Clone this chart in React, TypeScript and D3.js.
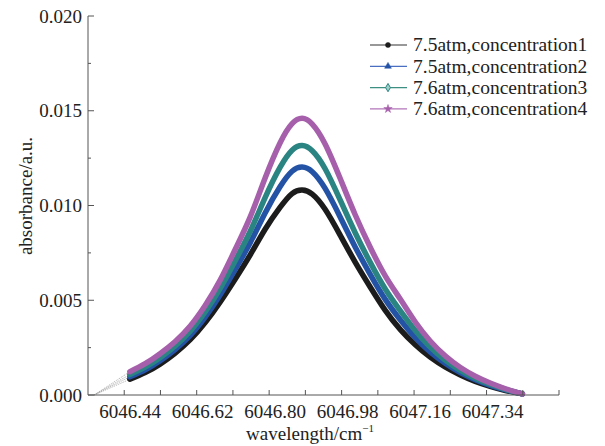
import * as d3 from "d3";
import React from "react";

// wavelength samples (cm^-1)
const wavelengths = [
  6046.454, 6046.492, 6046.529, 6046.566, 6046.604, 6046.641, 6046.678,
  6046.715, 6046.753, 6046.79, 6046.827, 6046.857, 6046.882, 6046.907,
  6046.939, 6046.976, 6047.014, 6047.051, 6047.088, 6047.126, 6047.163,
  6047.2, 6047.238, 6047.275, 6047.312, 6047.349, 6047.387, 6047.429,
];

const conc1 = [
  0.00083, 0.00118, 0.00163, 0.0022, 0.00292, 0.00382, 0.0049, 0.0061, 0.0074,
  0.00875, 0.0099, 0.01063, 0.01082, 0.0106, 0.0098, 0.00845, 0.007, 0.0057,
  0.00448, 0.00345, 0.00265, 0.002, 0.00147, 0.00106, 0.00072, 0.00046,
  0.00024, 0.00006,
];
const conc2 = [
  0.00096, 0.00133, 0.00181, 0.0024, 0.00315, 0.00411, 0.00527, 0.0066,
  0.00804, 0.00961, 0.01099, 0.01181, 0.01203, 0.01178, 0.0109, 0.00941,
  0.0078, 0.00637, 0.00506, 0.00396, 0.00303, 0.00227, 0.00166, 0.00118,
  0.00081, 0.00051, 0.00027, 0.00006,
];
const conc3 = [
  0.00108, 0.00147, 0.00197, 0.00258, 0.00337, 0.00438, 0.00561, 0.00706,
  0.00864, 0.01042, 0.01201, 0.01292, 0.01316, 0.01289, 0.01194, 0.01031,
  0.00855, 0.007, 0.00561, 0.00444, 0.0034, 0.00253, 0.00183, 0.0013, 0.00089,
  0.00057, 0.0003, 0.00006,
];
const conc4 = [
  0.00123, 0.00165, 0.00218, 0.00281, 0.00364, 0.00472, 0.00605, 0.00765,
  0.0094, 0.01145, 0.0133, 0.01432, 0.0146, 0.0143, 0.01325, 0.01145, 0.0095,
  0.0078, 0.0063, 0.00505, 0.00385, 0.00285, 0.00205, 0.00145, 0.00099,
  0.00063, 0.00033, 0.00006,
];

const seriesNames = [
  "7.5atm,concentration1",
  "7.5atm,concentration2",
  "7.6atm,concentration3",
  "7.6atm,concentration4",
];
const seriesValues = [conc1, conc2, conc3, conc4];
const seriesColors = ["#1c1c1c", "#2453a6", "#2a8482", "#a65fab"];
const legendColors = ["#333333", "#4a6fc2", "#3d8f82", "#b374b8"];
const markerTypes = [d3.symbolCircle, d3.symbolTriangle, d3.symbolDiamond, d3.symbolStar];

// stray zero point the curves are joined to with a dotted segment
const zeroWavelength = 6046.365;

const xTicks = d3.range(0, 13).map((i) => +(6046.44 + i * 0.09).toFixed(2));
const xTickLabels = ["6046.44", "6046.62", "6046.80", "6046.98", "6047.16", "6047.34"];
const yTicks = [0, 0.005, 0.01, 0.015, 0.02];
const yMinorTicks = [0.0025, 0.0075, 0.0125, 0.0175];

const W = 605;
const H = 446;
const font = "'Liberation Serif', 'Times New Roman', serif";

export default function App() {
  const x = d3.scaleLinear().domain([6046.35, 6047.52]).range([88, 559]);
  const y = d3.scaleLinear().domain([0, 0.02]).range([395, 16]);

  const line = d3
    .line<[number, number]>()
    .x((d) => x(d[0]))
    .y((d) => y(d[1]))
    .curve(d3.curveNatural);

  const axisColor = "#555";

  return (
    <svg
      width={W}
      height={H}
      style={{ position: "absolute", left: 0, top: 0, background: "#fff" }}
      fontFamily={font}
    >
      {/* dotted lead-in segments */}
      {seriesValues.map((vals, i) => (
        <line
          key={"lead" + i}
          x1={x(zeroWavelength)}
          y1={y(0)}
          x2={x(wavelengths[0])}
          y2={y(vals[0])}
          stroke="#999"
          strokeWidth={0.8}
          strokeDasharray="1,1"
        />
      ))}

      {/* curves */}
      {seriesValues.map((vals, i) => (
        <path
          key={"s" + i}
          d={line(wavelengths.map((w, j) => [w, vals[j]]) as [number, number][]) || ""}
          fill="none"
          stroke={seriesColors[i]}
          strokeWidth={5.5}
          strokeLinecap="round"
          strokeLinejoin="round"
        />
      ))}

      {/* axes */}
      <line x1={88} y1={y(0)} x2={559} y2={y(0)} stroke={axisColor} strokeWidth={1} />
      <line x1={88} y1={y(0)} x2={88} y2={y(0.02)} stroke={axisColor} strokeWidth={1} />

      {xTicks.map((t) => (
        <line key={"xt" + t} x1={x(t)} x2={x(t)} y1={y(0)} y2={y(0) - 5} stroke={axisColor} />
      ))}
      {xTickLabels.map((lab) => (
        <text
          key={"xl" + lab}
          x={x(+lab) + 6}
          y={418}
          textAnchor="middle"
          fontSize={19}
          fill="#222"
        >
          {lab}
        </text>
      ))}

      {yTicks.map((t) => (
        <g key={"yt" + t}>
          <line x1={88} x2={94} y1={y(t)} y2={y(t)} stroke={axisColor} />
          <text
            x={82}
            y={y(t)}
            dy="0.35em"
            textAnchor="end"
            fontSize={19}
            fill="#222"
          >
            {t.toFixed(3)}
          </text>
        </g>
      ))}
      {yMinorTicks.map((t) => (
        <line key={"ym" + t} x1={88} x2={91} y1={y(t)} y2={y(t)} stroke={axisColor} />
      ))}

      {/* axis titles */}
      <text
        transform="translate(25,196) rotate(-90)"
        textAnchor="middle"
        dy="0.35em"
        fontSize={19}
        fill="#222"
      >
        absorbance/a.u.
      </text>
      <text x={310} y={440} textAnchor="middle" fontSize={19} fill="#222">
        wavelength/cm
        <tspan fontSize={11} dy={-8}>
          −1
        </tspan>
      </text>

      {/* legend */}
      {seriesNames.map((name, i) => {
        const ly = 45 + i * 21.3;
        return (
          <g key={"lg" + i}>
            <line x1={370} x2={407} y1={ly} y2={ly} stroke={legendColors[i]} strokeWidth={1.2} />
            <path
              d={d3.symbol().type(markerTypes[i]).size(i === 3 ? 22 : 20)() || ""}
              transform={`translate(388,${ly})`}
              fill={i === 2 ? "#9fd0c8" : seriesColors[i]}
              stroke={seriesColors[i]}
              strokeWidth={i === 2 ? 1 : 0.5}
            />
            <text x={413} y={ly} dy="0.33em" fontSize={19.5} fill="#222">
              {name}
            </text>
          </g>
        );
      })}
    </svg>
  );
}
